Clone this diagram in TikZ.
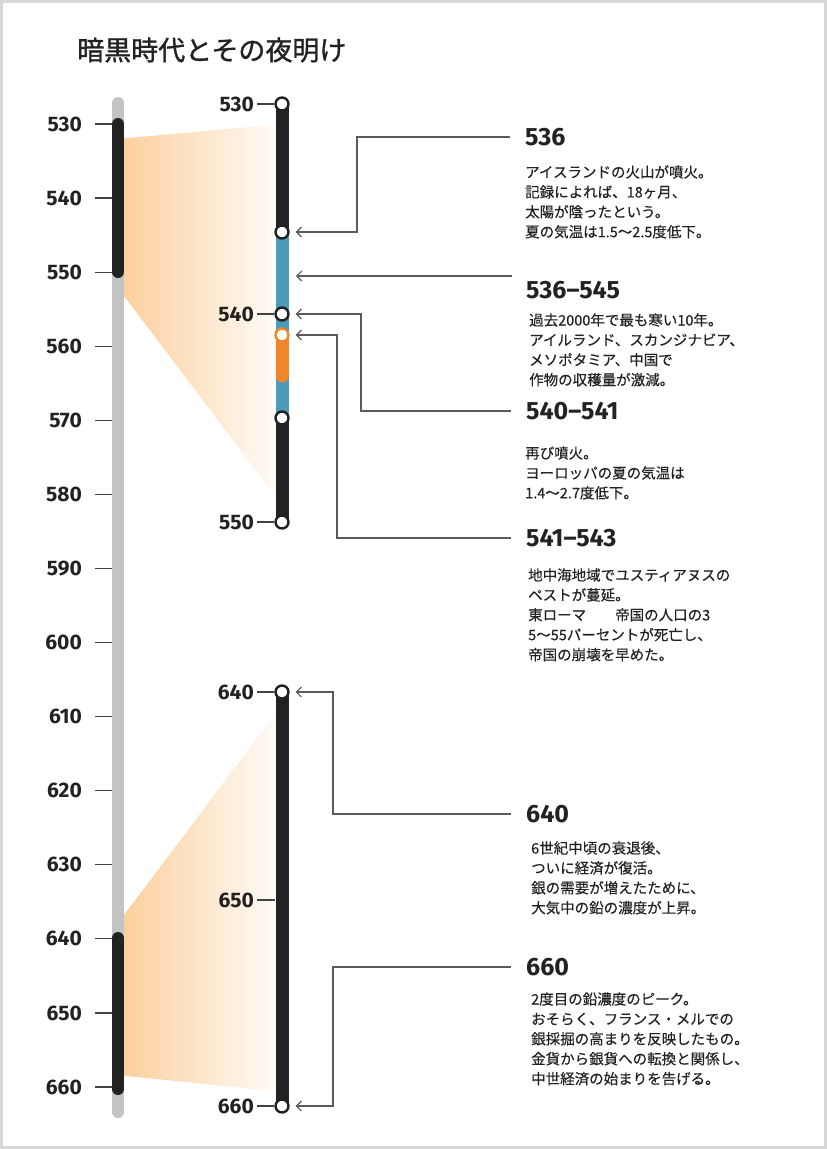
\documentclass[tikz,border=0pt]{standalone}
\usepackage{fontspec}
\setmainfont{Noto Sans CJK JP}[FakeBold=0.35]
\newfontfamily\numfont{Fira Sans}
\newfontfamily\titlefont{Noto Sans CJK JP}[FakeBold=1.2]
\usepackage{xcolor}
\usetikzlibrary{arrows.meta,positioning,calc}
\definecolor{inkdark}{RGB}{34,34,34}
\definecolor{axisgray}{RGB}{195,195,195}
\definecolor{barblue}{RGB}{75,155,185}
\definecolor{barorange}{RGB}{240,135,45}
\definecolor{fanpeach}{RGB}{252,207,155}
\definecolor{linegray}{RGB}{90,90,90}
\definecolor{framegray}{RGB}{215,215,215}

\begin{document}
\begin{tikzpicture}[
  x=1pt, y=-1pt,
  yearlbl/.style={anchor=east, inner sep=0pt, font=\numfont\bfseries\fontsize{21}{25}\selectfont, text=inkdark},
  tickln/.style={line width=1.2pt, draw=inkdark!85},
  dotnode/.style={circle, draw=inkdark, line width=2.4pt, fill=white, minimum size=13pt, inner sep=0pt},
  headtxt/.style={anchor=west, inner sep=0pt, font=\numfont\bfseries\fontsize{25}{30}\selectfont, text=inkdark},
  bodytxt/.style={anchor=base west, inner sep=0pt, align=left, font=\fontsize{14.5}{19.9}\selectfont, text=inkdark},
  callout/.style={draw=linegray, line width=1.1pt, -{Straight Barb[length=5pt,width=10pt]}, shorten >=6pt, shorten <=15pt},
  axisbar/.style={line width=13pt}
]

% Frame
\fill[white] (0,0) rectangle (827,1149);
\draw[framegray, line width=3pt] (1.5,1.5) rectangle (825.5,1147.5);
\useasboundingbox (0,0) rectangle (827,1149);

% Title
\node[anchor=west, inner sep=0pt, font=\titlefont\fontsize{27}{32}\selectfont, text=inkdark] (title) at (77,50) {暗黒時代とその夜明け};

% Zoom fans (peach fading to white, in thin strips)
\begin{scope}
  \clip (118,139) -- (282,124) -- (282,505) -- (118,288) -- cycle;
  \foreach \i [evaluate=\i as \pc using {100-\i*2.4}] in {0,...,40}
    \fill[fanpeach!\pc!white] (118+\i*4.1,120) rectangle (122.5+\i*4.1,510);
\end{scope}
\begin{scope}
  \clip (118,923) -- (282,705) -- (282,1092) -- (118,1075) -- cycle;
  \foreach \i [evaluate=\i as \pc using {100-\i*2.4}] in {0,...,40}
    \fill[fanpeach!\pc!white] (118+\i*4.1,700) rectangle (122.5+\i*4.1,1096);
\end{scope}

% Left: full time axis 530--660
\draw[axisgray, line width=12pt, line cap=round] (118,103) -- (118,1112);
\draw[inkdark, line width=12pt, line cap=round] (118,124) -- (118,272);
\draw[inkdark, line width=12pt, line cap=round] (118,938) -- (118,1089);
\foreach \yr [evaluate=\yr as \yy using {124+(\yr-530)*7.408}] in {530,540,...,660} {
  \node[yearlbl] (lbl\yr) at (82,\yy) {\yr};
  \draw[tickln] (95,\yy) -- (112,\yy);
}

% Right top: 530--550
\draw[inkdark, axisbar] (282,104) -- (282,232);
\draw[barblue, axisbar] (282,232) -- (282,418);
\draw[barorange, axisbar, line cap=round] (282,335) -- (282,376);
\draw[inkdark, axisbar] (282,418) -- (282,522);
\node[dotnode] (c530) at (282,104) {};
\node[dotnode] (c536) at (282,232) {};
\node[dotnode] (c540) at (282,314) {};
\node[dotnode, draw=barorange] (c541) at (282,335) {};
\node[dotnode] (c545) at (282,418) {};
\node[dotnode] (c550) at (282,522) {};
\node[yearlbl] (r530) at (254,104) {530};
\node[yearlbl] (r540) at (254,314) {540};
\node[yearlbl] (r550) at (254,522) {550};
\draw[tickln] (r530.east) ++(3,0) -- (c530.west);
\draw[tickln] (r540.east) ++(3,0) -- (c540.west);
\draw[tickln] (r550.east) ++(3,0) -- (c550.west);

% Right bottom: 640--660
\draw[inkdark, axisbar] (282,692) -- (282,1106);
\node[dotnode] (c640) at (282,692) {};
\node[dotnode] (c660) at (282,1106) {};
\node[yearlbl] (r640) at (254,692) {640};
\node[yearlbl] (r650) at (254,900) {650};
\node[yearlbl] (r660) at (254,1106) {660};
\draw[tickln] (r640.east) ++(3,0) -- (c640.west);
\draw[tickln] (r650.east) ++(3,0) -- (275,900);
\draw[tickln] (r660.east) ++(3,0) -- (c660.west);

% Events (body anchored on the baseline of its last line)
\node[headtxt] (h536) at (525,137) {536};
\node[bodytxt] (b536) at (525,237.2) {アイスランドの火山が噴火。\\記録によれば、18ヶ月、\\太陽が陰ったという。\\夏の気温は1.5〜2.5度低下。};

\node[headtxt] (h536545) at (526,290) {536–545};
\node[bodytxt] (b536545) at (529,385.2) {過去2000年で最も寒い10年。\\アイルランド、スカンジナビア、\\メソポタミア、中国で\\作物の収穫量が激減。};

\node[headtxt] (h540541) at (526,411) {540–541};
\node[bodytxt] (b540541) at (525,498.3) {再び噴火。\\ヨーロッパの夏の気温は\\1.4〜2.7度低下。};

\node[headtxt] (h541543) at (526,538) {541–543};
\node[bodytxt] (b541543) at (528,660.1) {地中海地域でユスティアヌスの\\ペストが蔓延。\\東ローマ　　帝国の人口の3\\5〜55パーセントが死亡し、\\帝国の崩壊を早めた。};

\node[headtxt] (h640) at (526,814) {640};
\node[bodytxt] (b640) at (531,913.2) {6世紀中頃の衰退後、\\ついに経済が復活。\\銀の需要が増えたために、\\大気中の鉛の濃度が上昇。};

\node[headtxt] (h660) at (526,967) {660};
\node[bodytxt] (b660) at (531,1084.1) {2度目の鉛濃度のピーク。\\おそらく、フランス・メルでの\\銀採掘の高まりを反映したもの。\\金貨から銀貨への転換と関係し、\\中世経済の始まりを告げる。};

% Callouts
\coordinate (k536) at (357,0);
\coordinate (k540541) at (361,0);
\coordinate (k541543) at (337,0);
\coordinate (k640) at (333,0);
\coordinate (k660) at (333,0);
\coordinate (k536545) at (512,276);
\coordinate (bluemid) at (290,276);
\draw[callout] (h536.west) -- (h536.west -| k536) |- (c536.east);
\draw[callout, shorten <=0pt] (k536545) -- (bluemid);
\draw[callout] (h540541.west) -- (h540541.west -| k540541) |- (c540.east);
\draw[callout] (h541543.west) -- (h541543.west -| k541543) |- (c541.east);
\draw[callout] (h640.west) -- (h640.west -| k640) |- (c640.east);
\draw[callout] (h660.west) -- (h660.west -| k660) |- (c660.east);

\end{tikzpicture}
\end{document}
